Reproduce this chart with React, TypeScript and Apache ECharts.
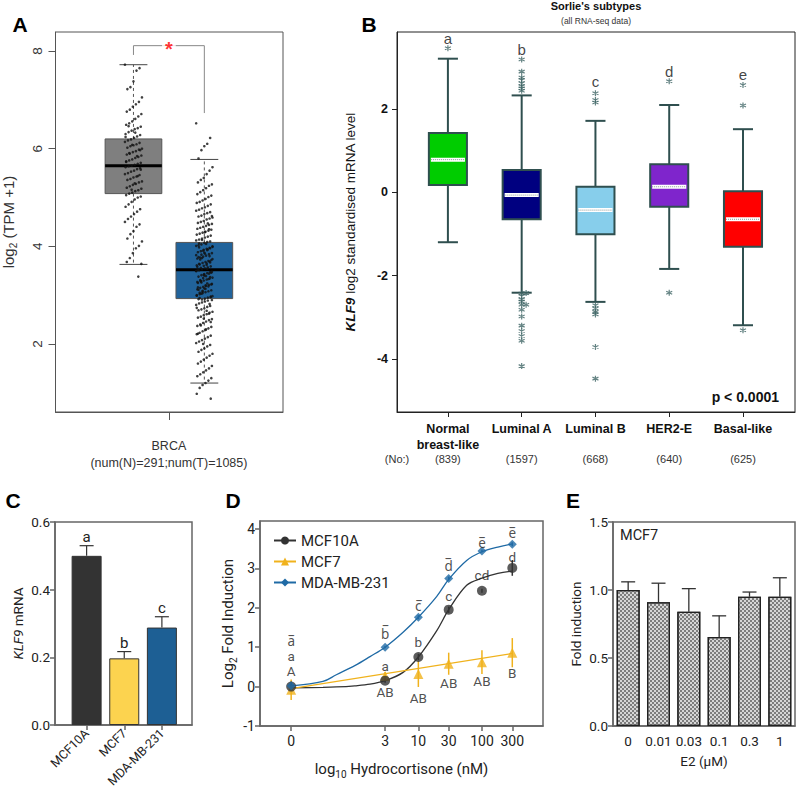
import React, { useEffect, useRef } from "react";
import * as echarts from "echarts";

// ---------------- Panel A : GEPIA BRCA ----------------
const aGroups = ["Normal", "Tumor"];
// [lower whisker, Q1, median, Q3, upper whisker]
const aBoxStats = [
  [3.63, 5.08, 5.65, 6.2, 7.72],
  [1.2, 2.93, 3.52, 4.08, 5.78],
];
const aNormalValues = [
  7.72, 7.65, 7.6, 7.38, 7.26, 7.22, 7.05, 6.96, 6.91, 6.86, 6.8, 6.76, 6.71, 6.66, 6.61, 6.56, 6.52, 6.49, 6.45,
  6.42, 6.4, 6.37, 6.34, 6.3, 6.28, 6.25, 6.22, 6.19, 6.17, 6.14, 6.12, 6.09, 6.07, 6.05, 6.02, 6.0, 5.98, 5.95,
  5.93, 5.9, 5.88, 5.86, 5.83, 5.81, 5.78, 5.76, 5.73, 5.71, 5.69, 5.67, 5.65, 5.64, 5.62, 5.6, 5.58, 5.55, 5.53,
  5.5, 5.48, 5.46, 5.43, 5.41, 5.38, 5.36, 5.33, 5.31, 5.28, 5.26, 5.23, 5.2, 5.18, 5.15, 5.13, 5.1, 5.08, 5.05,
  5.02, 5.0, 4.96, 4.91, 4.86, 4.81, 4.76, 4.71, 4.66, 4.61, 4.56, 4.5, 4.45, 4.4, 4.31, 4.25, 4.16, 4.1, 4.01,
  3.96, 3.86, 3.76, 3.68, 3.64, 3.38, 6.33, 6.08, 5.91, 5.74, 5.57, 5.44, 5.29, 5.16, 6.46, 6.24, 5.97, 5.85,
];
const aTumorValues = [
  6.52, 6.22, 6.1, 6.05, 5.97, 5.8, 5.62, 5.55, 5.48, 5.4, 5.36, 5.31, 5.27, 5.24, 5.19, 5.15, 5.11, 5.07, 5.04,
  5.01, 4.97, 4.94, 4.91, 4.89, 4.86, 4.83, 4.8, 4.78, 4.75, 4.73, 4.7, 4.68, 4.66, 4.63, 4.61, 4.59, 4.57, 4.55,
  4.52, 4.5, 4.48, 4.46, 4.44, 4.42, 4.4, 4.38, 4.36, 4.34, 4.32, 4.3, 4.28, 4.26, 4.24, 4.22, 4.2, 4.18, 4.16,
  4.14, 4.12, 4.1, 4.09, 4.07, 4.04, 4.02, 3.99, 3.97, 3.95, 3.93, 3.9, 3.88, 3.86, 3.84, 3.81, 3.79, 3.77, 3.75,
  3.72, 3.7, 3.68, 3.66, 3.63, 3.61, 3.59, 3.57, 3.55, 3.53, 3.51, 3.49, 3.47, 3.45, 3.43, 3.41, 3.38, 3.36, 3.34,
  3.32, 3.3, 3.28, 3.25, 3.23, 3.21, 3.19, 3.17, 3.15, 3.12, 3.1, 3.08, 3.06, 3.04, 3.02, 2.99, 2.97, 2.95, 2.93,
  2.91, 4.06, 4.01, 3.96, 3.92, 3.87, 3.83, 3.78, 3.74, 3.69, 3.65, 3.6, 3.56, 3.52, 3.48, 3.44, 3.39, 3.35, 3.31,
  3.27, 3.22, 3.18, 3.13, 3.09, 3.05, 3.0, 2.96, 2.89, 2.87, 2.85, 2.83, 2.8, 2.78, 2.76, 2.73, 2.71, 2.69, 2.66,
  2.64, 2.61, 2.59, 2.56, 2.54, 2.51, 2.49, 2.46, 2.43, 2.4, 2.37, 2.35, 2.32, 2.29, 2.26, 2.23, 2.2, 2.17, 2.14,
  2.11, 2.08, 2.05, 2.02, 1.98, 1.95, 1.91, 1.88, 1.84, 1.8, 1.76, 1.72, 1.68, 1.64, 1.6, 1.55, 1.5, 1.46, 1.42,
  1.38, 1.34, 1.3, 1.25, 1.2, 1.16, 1.1, 0.98, 0.88, 4.47, 4.29, 4.13, 3.98, 3.82, 3.67, 3.54, 3.4, 3.26, 3.11,
  2.98, 2.82, 2.68, 2.52, 2.38, 2.21, 4.62, 4.35, 4.05, 3.91, 3.73, 3.58, 3.46, 3.33, 3.2, 3.07, 2.94, 2.74, 2.45,
  3.94, 3.85, 3.76, 3.64, 3.5, 3.37, 3.24, 3.14, 3.03, 2.92, 4.0, 3.8, 3.62, 3.42, 3.29, 3.16, 2.9, 2.62, 2.3, 2.0,
];
const aYTicks = [2, 4, 6, 8];
const aXLabel = "BRCA\n(num(N)=291;num(T)=1085)";
const aBracket = [[0, 7.92], [0, 8.11], [1, 8.11], [1, 6.73]];
const aStar = [0.5, 8.11];

// ---------------- Panel B : Sorlie's subtypes ----------------
const bCategories = ["Normal\nbreast-like", "Luminal A", "Luminal B", "HER2-E", "Basal-like"];
const bCounts = [839, 1597, 668, 640, 625];
const bBoxStats = [
  [-1.2, 0.17, 0.78, 1.42, 3.2],
  [-2.41, -0.65, -0.07, 0.53, 2.32],
  [-2.63, -1.01, -0.43, 0.13, 1.71],
  [-1.84, -0.35, 0.13, 0.67, 2.09],
  [-3.19, -1.31, -0.65, 0.02, 1.51],
];
const bOutliers = [
  [0, 3.45],
  [1, 3.18], [1, 2.89], [1, 2.75], [1, 2.69], [1, 2.61], [1, 2.54], [1, 2.49], [1, 2.43],
  [1, -2.43], [1, -2.49], [1, -2.57], [1, -2.62], [1, -2.7], [1, -2.82], [1, -2.98], [1, -3.2],
  [1, -3.33], [1, -3.45], [1, -3.56], [1, -4.17], [1.06, -2.42], [1.06, -2.7],
  [2, 2.37], [2, 2.21], [2, 2.15], [2, -2.71], [2, -2.79], [2, -2.87], [2, -2.93], [2, -3.71], [2, -4.47],
  [3, 2.66], [3, -2.41],
  [4, 2.57], [4, 2.08], [4, -3.31],
];
const bLetters = ["a", "b", "c", "d", "e"];
const bLetterY = [3.69, 3.43, 2.65, 2.9, 2.81];
const bYTicks = [-4, -2, 0, 2];

// ---------------- Panel C ----------------
const cCells = ["MCF10A", "MCF7", "MDA-MB-231"];
const cValues = [0.5, 0.197, 0.288];
const cErrTop = [0.53, 0.217, 0.32];
const cLetters = ["a", "b", "c"];

// ---------------- Panel D ----------------
const dConc = [0, 3, 10, 30, 100, 300];
const dX = dConc.map((c) => (c === 0 ? -1 : Math.log10(c))); // 0 nM drawn at 0.1 nM
const dMCF10A = [0.0, 0.15, 0.75, 1.95, 2.43, 3.01];
const dMCF10AErr = [0.05, 0.05, 0.08, 0.08, 0.05, 0.2];
const dMCF7 = [-0.08, 0.27, 0.32, 0.58, 0.62, 0.86];
const dMCF7Err = [0.26, 0.1, 0.33, 0.28, 0.3, 0.37];
const dMDA = [0.02, 1.0, 1.76, 2.74, 3.44, 3.61];
const dMDAErr = [0.1, 0.03, 0.05, 0.05, 0.03, 0.05];
const dCurveX = [-1, -0.5, -0.29, 0, 0.24, 0.477, 0.76, 1, 1.29, 1.477, 1.76, 2, 2.25, 2.477];
const dMCF10ACurve = [-0.03, -0.02, -0.01, 0.02, 0.06, 0.15, 0.36, 0.75, 1.42, 1.95, 2.57, 2.75, 2.87, 2.93];
const dMDACurve = [0.02, 0.13, 0.3, 0.53, 0.76, 1.0, 1.38, 1.76, 2.29, 2.72, 3.2, 3.42, 3.54, 3.62];
const dMCF7Line = [[-1, -0.05], [2.477, 0.84]];
const dLabMDA = ["a\u0305", "b\u0305", "c\u0305", "d\u0305", "e\u0305", "e\u0305"];
const dLabMDAY = [1.16, 1.33, 2.05, 3.05, 3.65, 3.9];
const dLab10A = ["a", "a", "b", "c", "cd", "d"];
const dLab10AY = [0.78, 0.53, 1.12, 2.29, 2.84, 3.28];
const dLabMCF7 = ["A", "AB", "AB", "AB", "AB", "B"];
const dLabMCF7Y = [0.4, -0.15, -0.28, 0.09, 0.13, 0.34];
const dYTicks = [-1, 0, 1, 2, 3, 4];

// ---------------- Panel E ----------------
const eDoses = ["0", "0.01", "0.03", "0.1", "0.3", "1"];
const eValues = [1.0, 0.91, 0.84, 0.655, 0.95, 0.95];
const eErrTop = [1.06, 1.05, 1.01, 0.81, 0.985, 1.09];

// ---------------- styles ----------------
const FA = "'Liberation Sans', Arial, sans-serif";
const FR = "Roboto, 'Noto Sans', sans-serif";
const aColors = ["#7f7f7f", "#21639b"];
const bColors = ["#00cc00", "#000080", "#87ceeb", "#7f25cc", "#ff0000"];
const bEdge = "#2f4f4f";
const cColors = ["#333333", "#fcd34f", "#1d5f94"];
const dColors = { k: "#333333", y: "#f0b21c", b: "#1f6aa5" };

const jitter = (i: number, half: number) => (((i * 53) % 29) / 28 - 0.5) * 2 * half;

function buildOption(): any {
  const noSplit = { show: false };
  const grid = [
    { left: 55, top: 32, width: 228, height: 380, show: true, borderColor: "#555", borderWidth: 1 },
    { left: 397, top: 32, width: 398, height: 380, show: true, borderColor: "#222", borderWidth: 1 },
    { left: 55, top: 522, width: 137, height: 203, show: true, borderColor: "#666", borderWidth: 1.5 },
    { left: 260, top: 521, width: 283, height: 205, show: true, borderColor: "#666", borderWidth: 1.5 },
    { left: 613, top: 522, width: 182, height: 204, show: true, borderColor: "#666", borderWidth: 1.5 },
  ];

  const xAxis: any[] = [
    {
      gridIndex: 0, type: "value", min: -1.1, max: 2.11, splitLine: noSplit,
      axisLine: { show: true, onZero: false, lineStyle: { color: "#555" } },
      axisTick: { show: true, customValues: [0.5], length: 8, lineStyle: { color: "#555" } },
      axisLabel: { show: true, customValues: [0.5], formatter: () => aXLabel, margin: 25, fontFamily: FA, fontSize: 12.5, color: "#333", lineHeight: 17 },
    },
    {
      gridIndex: 1, type: "value", min: -0.69, max: 4.705, splitLine: noSplit,
      axisLine: { show: true, onZero: false, lineStyle: { color: "#222" } },
      axisTick: { show: true, customValues: [0, 1, 2, 3, 4], length: 5, lineStyle: { color: "#222" } },
      axisLabel: {
        customValues: [0, 1, 2, 3, 4], formatter: (v: number) => bCategories[Math.round(v)],
        fontFamily: FA, fontWeight: "bold", fontSize: 12.5, color: "#111", margin: 9, lineHeight: 16,
      },
    },
    {
      gridIndex: 1, type: "value", min: -0.69, max: 4.705, position: "bottom", splitLine: noSplit,
      axisLine: { show: false, onZero: false }, axisTick: { show: false },
      axisLabel: {
        customValues: [0, 1, 2, 3, 4], formatter: (v: number) => "(" + bCounts[Math.round(v)] + ")",
        fontFamily: FA, fontSize: 11, color: "#333", margin: 41,
      },
    },
    {
      gridIndex: 2, type: "value", min: -0.84, max: 2.8, splitLine: noSplit,
      axisLine: { show: true, onZero: false, lineStyle: { color: "#666", width: 1.5 } },
      axisTick: { show: true, customValues: [0, 1, 2], length: 5, lineStyle: { color: "#666", width: 1.5 } },
      axisLabel: {
        customValues: [0, 1, 2], formatter: (v: number) => cCells[Math.round(v)], rotate: 45,
        fontFamily: FR, fontSize: 12.5, color: "#222", margin: 6,
      },
    },
    {
      gridIndex: 3, type: "value", min: -1.49, max: 2.96, splitLine: noSplit,
      axisLine: { show: true, onZero: false, lineStyle: { color: "#666", width: 1.5 } },
      axisTick: { show: true, customValues: dX, length: 5, lineStyle: { color: "#666", width: 1.5 } },
      axisLabel: {
        customValues: dX,
        formatter: (v: number) => {
          const i = dX.findIndex((p) => Math.abs(p - v) < 1e-6);
          return i >= 0 ? String(dConc[i]) : "";
        },
        fontFamily: FR, fontSize: 14, color: "#222", margin: 8,
      },
      name: "{n|log}{s|10}{n| Hydrocortisone (nM)}", nameLocation: "middle", nameGap: 33,
      nameTextStyle: {
        rich: {
          n: { fontFamily: FR, fontSize: 15, color: "#222", lineHeight: 20 },
          s: { fontFamily: FR, fontSize: 10, color: "#222", verticalAlign: "bottom", lineHeight: 12 },
        },
      },
    },
    {
      gridIndex: 4, type: "category", data: eDoses,
      axisLine: { show: true, onZero: false, lineStyle: { color: "#666", width: 1.5 } },
      axisTick: { show: false },
      axisLabel: { fontFamily: FR, fontSize: 13.5, color: "#222", margin: 8, interval: 0 },
      name: "E2 (\u03bcM)", nameLocation: "middle", nameGap: 28,
      nameTextStyle: { fontFamily: FR, fontSize: 13.5, color: "#222" },
    },
  ];

  const yAxis: any[] = [
    {
      gridIndex: 0, type: "value", min: 0.607, max: 8.39, splitLine: noSplit,
      axisLine: { show: true, onZero: false, lineStyle: { color: "#555" } },
      axisTick: { show: true, customValues: aYTicks, length: 7, lineStyle: { color: "#555" } },
      axisLabel: { customValues: aYTicks, rotate: 90, fontFamily: FA, fontSize: 13.5, color: "#333", margin: 11 },
      name: "{n|log}{s|2}{n| (TPM +1)}", nameLocation: "middle", nameGap: 37,
      nameTextStyle: {
        rich: {
          n: { fontFamily: FA, fontSize: 15, color: "#333", lineHeight: 20 },
          s: { fontFamily: FA, fontSize: 10, color: "#333", verticalAlign: "bottom", lineHeight: 12 },
        },
      },
    },
    {
      gridIndex: 1, type: "value", min: -5.27, max: 3.84, splitLine: noSplit,
      axisLine: { show: true, onZero: false, lineStyle: { color: "#222" } },
      axisTick: { show: true, customValues: bYTicks, length: 5, lineStyle: { color: "#222" } },
      axisLabel: { customValues: bYTicks, fontFamily: FA, fontWeight: "bold", fontSize: 12.5, color: "#111", margin: 9 },
      name: "{b|KLF9}{n| log2 standardised mRNA level}", nameLocation: "middle", nameGap: 40,
      nameTextStyle: {
        rich: {
          b: { fontFamily: FA, fontSize: 13.5, fontWeight: "bold", fontStyle: "italic", color: "#111" },
          n: { fontFamily: FA, fontSize: 13.5, color: "#111" },
        },
      },
    },
    {
      gridIndex: 2, type: "value", min: 0, max: 0.6, interval: 0.2, splitLine: noSplit,
      axisLine: { show: true, onZero: false, lineStyle: { color: "#666", width: 1.5 } },
      axisTick: { show: true, length: 5, lineStyle: { color: "#666", width: 1.5 } },
      axisLabel: { formatter: (v: number) => v.toFixed(1), fontFamily: FR, fontSize: 13.5, color: "#222", margin: 5 },
      name: "{i|KLF9}{n| mRNA}", nameLocation: "middle", nameGap: 30,
      nameTextStyle: {
        rich: {
          i: { fontFamily: FR, fontSize: 13.5, fontStyle: "italic", color: "#222" },
          n: { fontFamily: FR, fontSize: 13.5, color: "#222" },
        },
      },
    },
    {
      gridIndex: 3, type: "value", min: -1, max: 4.2, splitLine: noSplit,
      axisLine: { show: true, onZero: false, lineStyle: { color: "#666", width: 1.5 } },
      axisTick: { show: true, customValues: dYTicks, length: 5, lineStyle: { color: "#666", width: 1.5 } },
      axisLabel: { customValues: dYTicks, fontFamily: FR, fontSize: 14, color: "#222", margin: 5 },
      name: "{n|Log}{s|2}{n| Fold Induction}", nameLocation: "middle", nameGap: 22,
      nameTextStyle: {
        rich: {
          n: { fontFamily: FR, fontSize: 15, color: "#222", lineHeight: 20 },
          s: { fontFamily: FR, fontSize: 10, color: "#222", verticalAlign: "bottom", lineHeight: 12 },
        },
      },
    },
    {
      gridIndex: 4, type: "value", min: 0, max: 1.5, interval: 0.5, splitLine: noSplit,
      axisLine: { show: true, onZero: false, lineStyle: { color: "#666", width: 1.5 } },
      axisTick: { show: true, length: 5, lineStyle: { color: "#666", width: 1.5 } },
      axisLabel: { formatter: (v: number) => v.toFixed(1), fontFamily: FR, fontSize: 13.5, color: "#222", margin: 5 },
      name: "Fold induction", nameLocation: "middle", nameGap: 30,
      nameTextStyle: { fontFamily: FR, fontSize: 13.5, color: "#222" },
    },
  ];

  const series: any[] = [];

  // ----- A -----
  series.push({
    type: "custom", xAxisIndex: 0, yAxisIndex: 0, z: 2,
    data: aBoxStats.map((s, i) => [i, ...s]),
    renderItem: (params: any, api: any) => {
      const x = api.value(0);
      const [cx, yLo] = api.coord([x, api.value(1)]);
      const yQ1 = api.coord([x, api.value(2)])[1];
      const yMd = api.coord([x, api.value(3)])[1];
      const yQ3 = api.coord([x, api.value(4)])[1];
      const yHi = api.coord([x, api.value(5)])[1];
      const hw = api.size([0.4, 0])[0];
      const cw = api.size([0.197, 0])[0];
      const ws = { stroke: "#555", lineWidth: 1, lineDash: [3, 3] };
      const cs = { stroke: "#444", lineWidth: 1 };
      return {
        type: "group",
        children: [
          { type: "line", shape: { x1: cx, y1: yQ3, x2: cx, y2: yHi }, style: ws },
          { type: "line", shape: { x1: cx, y1: yQ1, x2: cx, y2: yLo }, style: ws },
          { type: "line", shape: { x1: cx - cw, y1: yHi, x2: cx + cw, y2: yHi }, style: cs },
          { type: "line", shape: { x1: cx - cw, y1: yLo, x2: cx + cw, y2: yLo }, style: cs },
          { type: "rect", shape: { x: cx - hw, y: yQ3, width: 2 * hw, height: yQ1 - yQ3 }, style: { fill: aColors[params.dataIndex], stroke: "#555", lineWidth: 1 } },
          { type: "line", shape: { x1: cx - hw, y1: yMd, x2: cx + hw, y2: yMd }, style: { stroke: "#000", lineWidth: 3 } },
        ],
      };
    },
  });
  series.push({
    type: "scatter", xAxisIndex: 0, yAxisIndex: 0, z: 3, symbolSize: 2.6,
    itemStyle: { color: "#111" },
    data: aNormalValues.map((v, i) => [0 + jitter(i, 0.12), v]),
  });
  series.push({
    type: "scatter", xAxisIndex: 0, yAxisIndex: 0, z: 3, symbolSize: 2.6,
    itemStyle: { color: "#111" },
    data: aTumorValues.map((v, i) => [1 + jitter(i, 0.115), v]),
  });
  series.push({
    type: "line", xAxisIndex: 0, yAxisIndex: 0, z: 3, symbol: "none",
    lineStyle: { color: "#888", width: 1 }, data: aBracket,
  });
  series.push({
    type: "scatter", xAxisIndex: 0, yAxisIndex: 0, z: 4, symbolSize: 1,
    itemStyle: { color: "transparent" }, data: [aStar],
    label: { show: true, position: "inside", formatter: "*", color: "#ff0000", fontFamily: FA, fontSize: 20, fontWeight: "bold", backgroundColor: "#fff", padding: [0, 3, 0, 3], offset: [0, 3] },
  });

  // ----- B -----
  series.push({
    type: "custom", xAxisIndex: 1, yAxisIndex: 1, z: 2,
    data: bBoxStats.map((s, i) => [i, ...s]),
    renderItem: (params: any, api: any) => {
      const x = api.value(0);
      const [cx, yLo] = api.coord([x, api.value(1)]);
      const yQ1 = api.coord([x, api.value(2)])[1];
      const yMd = api.coord([x, api.value(3)])[1];
      const yQ3 = api.coord([x, api.value(4)])[1];
      const yHi = api.coord([x, api.value(5)])[1];
      const hw = api.size([0.258, 0])[0];
      const cw = api.size([0.136, 0])[0];
      const ls = { stroke: bEdge, lineWidth: 2 };
      return {
        type: "group",
        children: [
          { type: "line", shape: { x1: cx, y1: yQ3, x2: cx, y2: yHi }, style: ls },
          { type: "line", shape: { x1: cx, y1: yQ1, x2: cx, y2: yLo }, style: ls },
          { type: "line", shape: { x1: cx - cw, y1: yHi, x2: cx + cw, y2: yHi }, style: ls },
          { type: "line", shape: { x1: cx - cw, y1: yLo, x2: cx + cw, y2: yLo }, style: ls },
          { type: "rect", shape: { x: cx - hw, y: yQ3, width: 2 * hw, height: yQ1 - yQ3 }, style: { fill: bColors[params.dataIndex], stroke: bEdge, lineWidth: 2 } },
          { type: "line", shape: { x1: cx - hw + 2, y1: yMd, x2: cx + hw - 2, y2: yMd }, style: { stroke: "#ffffff", lineWidth: 4 } },
          { type: "line", shape: { x1: cx - hw + 2, y1: yMd, x2: cx + hw - 2, y2: yMd }, style: { stroke: "#8a9a9a", lineWidth: 1, lineDash: [1, 1] } },
        ],
      };
    },
  });
  series.push({
    type: "scatter", xAxisIndex: 1, yAxisIndex: 1, z: 3,
    symbol: "path://M5,0L5,10M0.7,2.5L9.3,7.5M0.7,7.5L9.3,2.5", symbolSize: 6,
    itemStyle: { color: "none", borderColor: "#3d6464", borderWidth: 1.2 },
    data: bOutliers,
  });
  series.push({
    type: "scatter", xAxisIndex: 1, yAxisIndex: 1, z: 3, symbolSize: 1,
    itemStyle: { color: "transparent" },
    data: bLetters.map((t, i) => ({ value: [i, bLetterY[i]], name: t })),
    label: { show: true, position: "inside", formatter: "{b}", fontFamily: FA, fontSize: 15, color: "#111" },
  });

  // ----- C -----
  series.push({
    type: "bar", xAxisIndex: 3, yAxisIndex: 2, barWidth: 30, z: 2,
    data: cValues.map((v, i) => ({ value: [i, v], itemStyle: { color: cColors[i] } })),
    itemStyle: { borderColor: "#333", borderWidth: 1 },
  });
  series.push({
    type: "custom", xAxisIndex: 3, yAxisIndex: 2, z: 3,
    data: cValues.map((v, i) => [i, v, cErrTop[i]]),
    renderItem: (params: any, api: any) => {
      const x = api.value(0);
      const p0 = api.coord([x, api.value(1)]);
      const p1 = api.coord([x, api.value(2)]);
      const cw = 7;
      return {
        type: "group",
        children: [
          { type: "line", shape: { x1: p0[0], y1: p0[1], x2: p1[0], y2: p1[1] }, style: { stroke: "#333", lineWidth: 1.2 } },
          { type: "line", shape: { x1: p1[0] - cw, y1: p1[1], x2: p1[0] + cw, y2: p1[1] }, style: { stroke: "#333", lineWidth: 1.2 } },
          { type: "text", x: p1[0], y: p1[1] - 1, style: { text: cLetters[params.dataIndex], fontFamily: FR, fontSize: 15, fill: "#222", align: "center", verticalAlign: "bottom" } },
        ],
      };
    },
  });

  // ----- D -----
  const errSeries = (vals: number[], errs: number[], color: string) => ({
    type: "custom", xAxisIndex: 4, yAxisIndex: 3, z: 3,
    data: vals.map((v, i) => [dX[i], v - errs[i], v + errs[i]]),
    renderItem: (params: any, api: any) => {
      const x = api.value(0);
      const p0 = api.coord([x, api.value(1)]);
      const p1 = api.coord([x, api.value(2)]);
      return { type: "line", shape: { x1: p0[0], y1: p0[1], x2: p1[0], y2: p1[1] }, style: { stroke: color, lineWidth: 1.5 } };
    },
  });
  series.push(errSeries(dMCF7, dMCF7Err, dColors.y));
  series.push(errSeries(dMCF10A, dMCF10AErr, dColors.k));
  series.push(errSeries(dMDA, dMDAErr, dColors.b));
  series.push({
    name: "MCF10A", type: "line", xAxisIndex: 4, yAxisIndex: 3, z: 2, smooth: 0.35,
    showSymbol: false, symbol: "circle", symbolSize: 10, color: dColors.k,
    lineStyle: { color: dColors.k, width: 1.3 },
    data: dCurveX.map((x, i) => [x, dMCF10ACurve[i]]),
  });
  series.push({
    name: "MCF7", type: "line", xAxisIndex: 4, yAxisIndex: 3, z: 2,
    showSymbol: false, symbol: "triangle", symbolSize: 10, color: dColors.y,
    lineStyle: { color: dColors.y, width: 1.3 },
    data: dMCF7Line,
  });
  series.push({
    name: "MDA-MB-231", type: "line", xAxisIndex: 4, yAxisIndex: 3, z: 2, smooth: 0.35,
    showSymbol: false, symbol: "diamond", symbolSize: 9, color: dColors.b,
    lineStyle: { color: dColors.b, width: 1.3 },
    data: dCurveX.map((x, i) => [x, dMDACurve[i]]),
  });
  series.push({
    name: "MCF7 pts", type: "scatter", xAxisIndex: 4, yAxisIndex: 3, z: 4, symbol: "triangle", symbolSize: 10,
    itemStyle: { color: dColors.y }, data: dMCF7.map((v, i) => [dX[i], v]),
  });
  series.push({
    name: "MCF10A pts", type: "scatter", xAxisIndex: 4, yAxisIndex: 3, z: 4, symbol: "circle", symbolSize: 10,
    itemStyle: { color: dColors.k }, data: dMCF10A.map((v, i) => [dX[i], v]),
  });
  series.push({
    name: "MDA pts", type: "scatter", xAxisIndex: 4, yAxisIndex: 3, z: 4, symbol: "diamond", symbolSize: 9,
    itemStyle: { color: dColors.b }, data: dMDA.map((v, i) => [dX[i], v]),
  });
  const labSeries = (texts: string[], ys: number[]) => ({
    type: "scatter", xAxisIndex: 4, yAxisIndex: 3, z: 5, symbolSize: 1,
    itemStyle: { color: "transparent" },
    data: texts.map((t, i) => ({ value: [dX[i], ys[i]], name: t })),
    label: { show: true, position: "inside", formatter: "{b}", fontFamily: FR, fontSize: 13.5, lineHeight: 13, color: "#222" },
  });
  series.push(labSeries(dLabMDA, dLabMDAY));
  series.push(labSeries(dLab10A, dLab10AY));
  series.push(labSeries(dLabMCF7, dLabMCF7Y));

  // ----- E -----
  series.push({
    type: "bar", xAxisIndex: 5, yAxisIndex: 4, barWidth: 23, z: 2,
    data: eValues,
    itemStyle: {
      color: "#d6d6d6", borderColor: "#222", borderWidth: 1.3,
      decal: { symbol: "rect", symbolSize: 1, color: "#7d7d7d", dashArrayX: [[2, 2], [0, 2, 2, 0]], dashArrayY: [2, 0], rotation: 0 },
    },
  });
  series.push({
    type: "custom", xAxisIndex: 5, yAxisIndex: 4, z: 3,
    data: eValues.map((v, i) => [i, v, eErrTop[i]]),
    renderItem: (params: any, api: any) => {
      const x = api.value(0);
      const p0 = api.coord([x, api.value(1)]);
      const p1 = api.coord([x, api.value(2)]);
      const cw = 7;
      return {
        type: "group",
        children: [
          { type: "line", shape: { x1: p0[0], y1: p0[1], x2: p1[0], y2: p1[1] }, style: { stroke: "#333", lineWidth: 1.3 } },
          { type: "line", shape: { x1: p1[0] - cw, y1: p1[1], x2: p1[0] + cw, y2: p1[1] }, style: { stroke: "#333", lineWidth: 1.3 } },
        ],
      };
    },
  });

  const letter = (t: string, x: number, y: number, font: string) => ({
    type: "text", x, y, z: 100,
    style: { text: t, fontFamily: font, fontSize: 21, fontWeight: "bold", fill: "#000", align: "center", verticalAlign: "middle" },
  });

  const graphic = [
    letter("A", 20, 24, FA),
    letter("B", 369, 24, FA),
    letter("C", 13, 500, FA),
    letter("D", 233, 500, FA),
    letter("E", 573, 500, FA),
    { type: "text", x: 596, y: 6, style: { text: "Sorlie's subtypes", fontFamily: FA, fontSize: 11, fontWeight: "bold", fill: "#111", align: "center", verticalAlign: "middle" } },
    { type: "text", x: 596, y: 21, style: { text: "(all RNA-seq data)", fontFamily: FA, fontSize: 8.5, fill: "#333", align: "center", verticalAlign: "middle" } },
    { type: "text", x: 779, y: 397, style: { text: "p < 0.0001", fontFamily: FA, fontSize: 14, fontWeight: "bold", fill: "#111", align: "right", verticalAlign: "middle" } },
    { type: "text", x: 397, y: 459, style: { text: "(No:)", fontFamily: FA, fontSize: 11, fill: "#333", align: "center", verticalAlign: "middle" } },
    { type: "text", x: 620, y: 535, style: { text: "MCF7", fontFamily: FR, fontSize: 14.5, fill: "#222", align: "left", verticalAlign: "middle" } },
  ];

  return {
    animation: false,
    backgroundColor: "#ffffff",
    grid,
    xAxis,
    yAxis,
    legend: {
      data: ["MCF10A", "MCF7", "MDA-MB-231"],
      left: 268, top: 528, orient: "vertical", itemWidth: 22, itemHeight: 10, itemGap: 6,
      textStyle: { fontFamily: FR, fontSize: 15, color: "#222" },
      selectedMode: false,
    },
    series,
    graphic,
  };
}

export default function App() {
  const ref = useRef<HTMLDivElement>(null);
  useEffect(() => {
    document.body.style.margin = "0";
    if (!ref.current) return;
    const chart = echarts.init(ref.current, undefined, { renderer: "svg" });
    chart.setOption(buildOption());
    return () => chart.dispose();
  }, []);
  return <div ref={ref} style={{ width: 797, height: 802, background: "#fff" }} />;
}
